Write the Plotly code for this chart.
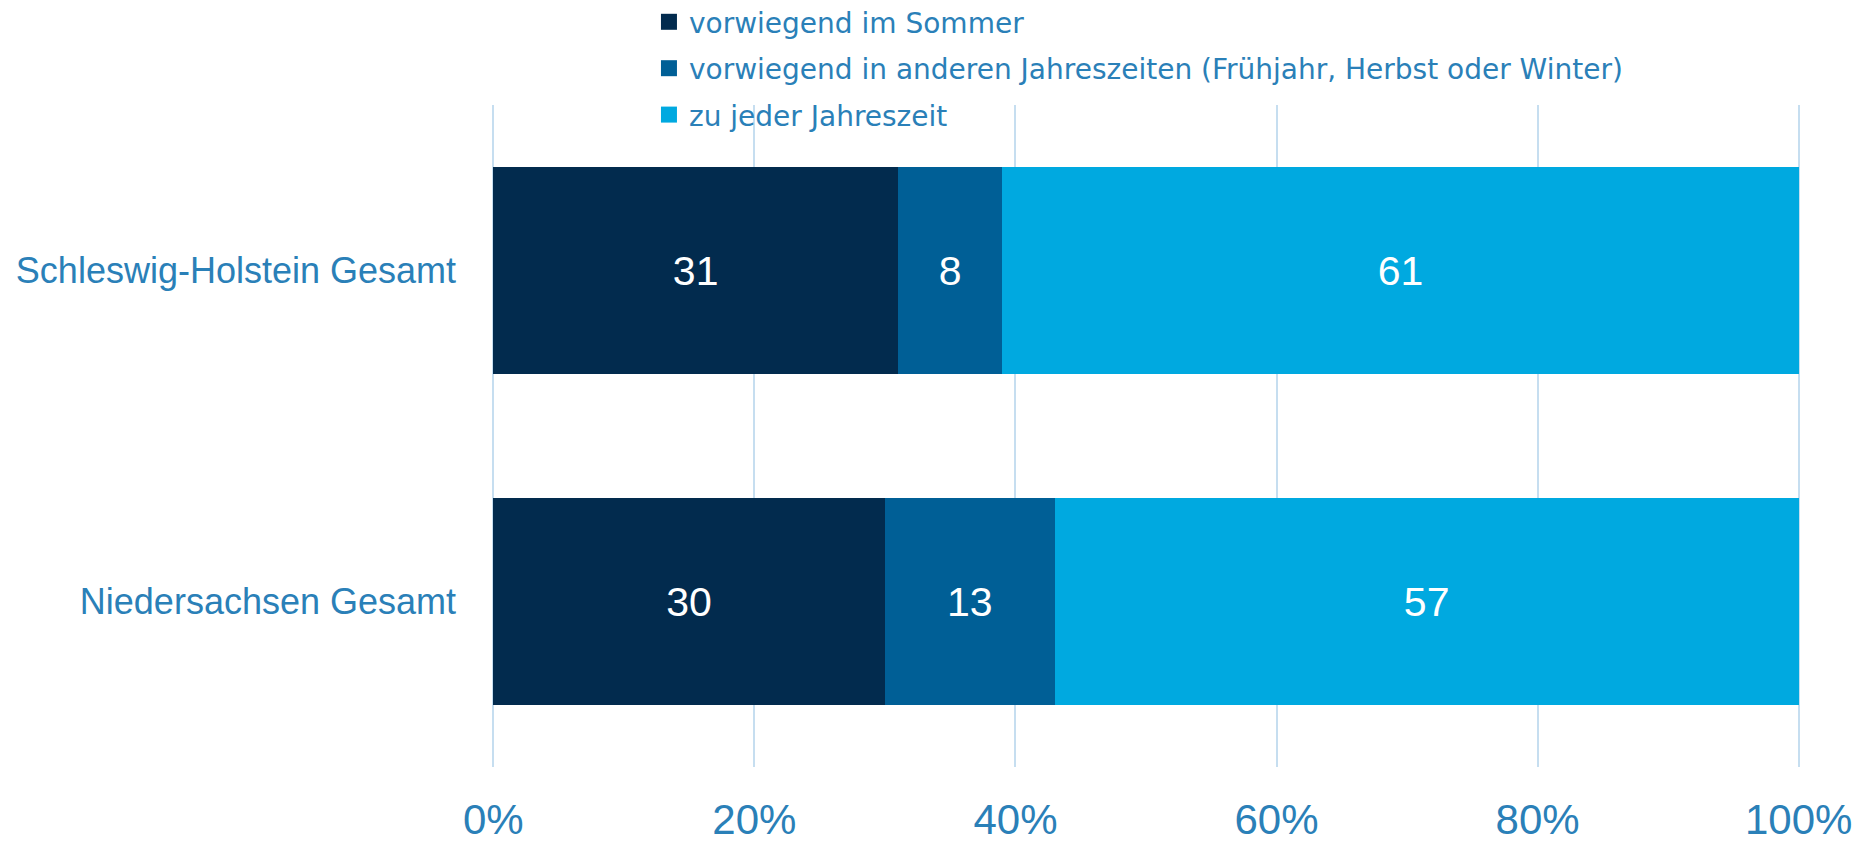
import plotly.graph_objects as go

regions = ['Schleswig-Holstein Gesamt', 'Niedersachsen Gesamt']
series_names = ['vorwiegend im Sommer',
                'vorwiegend in anderen Jahreszeiten (Frühjahr, Herbst oder Winter)',
                'zu jeder Jahreszeit']
sommer = [31, 30]
andere = [8, 13]
jederzeit = [61, 57]
tick_vals = [0, 20, 40, 60, 80, 100]
tick_text = ['0%', '20%', '40%', '60%', '80%', '100%']

colors = ['#022b4e', '#005f96', '#00a9e0']
text_color = '#2a80b8'

fig = go.Figure()
for i, (name, vals) in enumerate(zip(series_names, [sommer, andere, jederzeit])):
    fig.add_trace(go.Bar(
        y=regions, x=vals, name=name, orientation='h',
        marker=dict(color=colors[i], line=dict(width=0)),
        text=[str(v) for v in vals], textposition='inside', insidetextanchor='middle',
        textfont=dict(color='white', size=41, family='Liberation Sans'),
        legendgroup='g%d' % i, showlegend=False,
    ))
    # legend-only entry with a bigger square swatch
    fig.add_trace(go.Scatter(
        x=[None], y=[None], mode='markers', name=name,
        marker=dict(symbol='square', size=17, color=colors[i]),
        legendgroup='g%d' % i, showlegend=True,
    ))

fig.update_layout(
    barmode='stack', bargap=0.376,
    width=1860, height=843,
    margin=dict(l=484, r=68, t=97, b=84, autoexpand=False),
    paper_bgcolor='white', plot_bgcolor='white',
    font=dict(family='Liberation Sans', color=text_color),
    legend=dict(
        x=0.12, y=1.163, xanchor='left', yanchor='top',
        traceorder='grouped', tracegroupgap=7,
        font=dict(size=28, family='DejaVu Sans', color=text_color),
        bgcolor='rgba(0,0,0,0)', itemwidth=30,
    ),
    showlegend=True,
)
fig.update_xaxes(
    range=[-0.1, 100.1], tickvals=tick_vals, ticktext=tick_text,
    showgrid=True, gridcolor='#c6def0', gridwidth=2, zeroline=False,
    tickfont=dict(size=42, family='Liberation Sans', color=text_color),
    ticklabelstandoff=24,
)
fig.update_yaxes(
    categoryorder='array', categoryarray=regions[::-1],
    showgrid=False, zeroline=False,
    tickfont=dict(size=36, family='Liberation Sans', color=text_color),
    ticklabelstandoff=35,
)

fig.write_html("out.html")
